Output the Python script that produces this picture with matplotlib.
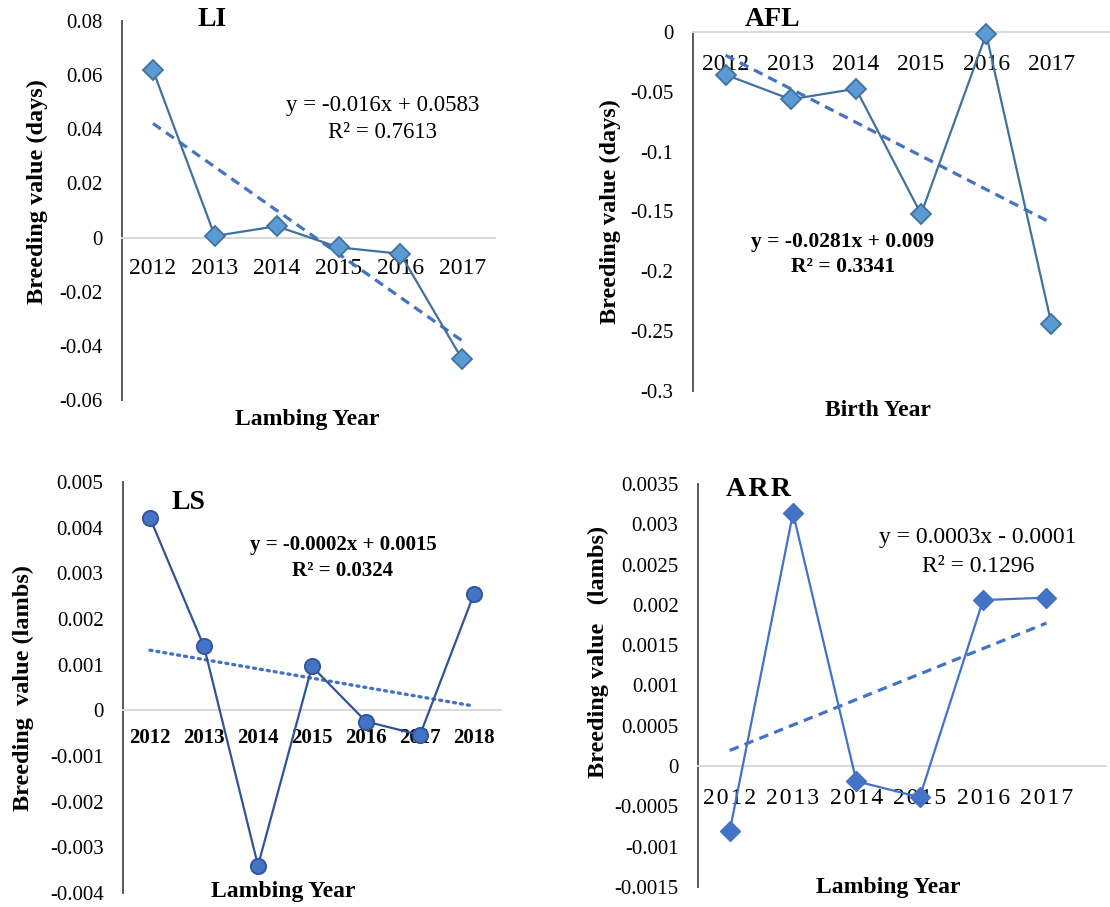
import matplotlib
matplotlib.use("Agg")
import matplotlib.pyplot as plt
from matplotlib.ticker import FixedLocator, FuncFormatter
import numpy as np

plt.rcParams['font.family'] = ['Liberation Serif', 'DejaVu Serif']

# --- data ---
years_6 = ['2012', '2013', '2014', '2015', '2016', '2017']
years_7 = ['2012', '2013', '2014', '2015', '2016', '2017', '2018']

li_values = [0.0619, 0.0006, 0.0042, -0.0036, -0.0060, -0.0450]
afl_values = [-0.0357, -0.0563, -0.0474, -0.1522, -0.0017, -0.2437]
ls_values = [0.00421, 0.00140, -0.00340, 0.00096, -0.000245, -0.00054, 0.00255]
arr_values = [-0.00081, 0.00314, -0.000188, -0.000386, 0.00206, 0.00209]

li_yticks = [-0.06, -0.04, -0.02, 0, 0.02, 0.04, 0.06, 0.08]
afl_yticks = [-0.3, -0.25, -0.2, -0.15, -0.1, -0.05, 0]
ls_yticks = [-0.004, -0.003, -0.002, -0.001, 0, 0.001, 0.002, 0.003, 0.004, 0.005]
arr_yticks = [-0.0015, -0.001, -0.0005, 0, 0.0005, 0.001, 0.0015, 0.002,
              0.0025, 0.003, 0.0035]

li_eq = ['y = -0.016x + 0.0583', 'R² = 0.7613']
afl_eq = ['y = -0.0281x + 0.009', 'R² = 0.3341']
ls_eq = ['y = -0.0002x + 0.0015', 'R² = 0.0324']
arr_eq = ['y = 0.0003x - 0.0001', 'R² = 0.1296']

W, H = 1110, 907
fig = plt.figure(figsize=(W / 100, H / 100), dpi=100)


def px(x, y):
    # pixel position -> figure fraction
    return x / W, 1 - y / H


def add_axes(x0, y_top, x1, y_bot):
    return fig.add_axes([x0 / W, 1 - y_bot / H, (x1 - x0) / W, (y_bot - y_top) / H])


def fmt(v, pos):
    v = round(v, 6)
    if v == 0:
        return '0'
    return f'{v:g}'


def draw_panel(ax, labels, values, yticks, xmax, line_kw, trend_kw,
               xtick_size=17, xtick_weight='normal', xpad=15):
    # spines first: moving the bottom spine resets the ticks
    for s in ['top', 'right']:
        ax.spines[s].set_visible(False)
    ax.spines['left'].set_color('#595959')
    ax.spines['left'].set_linewidth(1.4)
    ax.spines['bottom'].set_position(('data', 0))
    ax.spines['bottom'].set_color('#D9D9D9')
    ax.spines['bottom'].set_linewidth(1.4)
    ax.patch.set_alpha(0)

    x = np.arange(1, len(values) + 1)
    ax.plot(x, values, clip_on=False, zorder=4, **line_kw)
    k, b = np.polyfit(x, values, 1)
    ax.plot(x, k * x + b, zorder=3, **trend_kw)

    ax.set_xlim(0.5, xmax)
    ax.set_ylim(yticks[0], yticks[-1])
    ax.yaxis.set_major_locator(FixedLocator(yticks))
    ax.yaxis.set_major_formatter(FuncFormatter(fmt))
    ax.set_xticks(x)
    ax.set_xticklabels(labels)
    ax.tick_params(axis='y', length=0, pad=14, labelsize=15)
    ax.tick_params(axis='x', length=0, pad=xpad, labelsize=xtick_size)
    for t in ax.get_xticklabels():
        t.set_fontweight(xtick_weight)


diamond_li = dict(color='#41719C', lw=1.6, marker='D', ms=10,
                  mfc='#5B9BD5', mec='#41719C', mew=1.3)
dashed = dict(color='#4472C4', lw=2.3, linestyle=(0, (3, 2)))

# LI
ax1 = add_axes(122, 21, 495, 400)
draw_panel(ax1, years_6, li_values, li_yticks, 6.53, diamond_li, dashed)
fig.text(*px(212, 20), 'LI', fontsize=20, fontweight='bold', ha='center', va='center')
fig.text(*px(383, 105), li_eq[0], fontsize=16.5, ha='center', va='center')
fig.text(*px(383, 133), li_eq[1], fontsize=16.5, ha='center', va='center')
fig.text(*px(37, 192), 'Breeding value (days)', fontsize=17.5, fontweight='bold',
         rotation=90, ha='center', va='center')
fig.text(*px(307, 420), 'Lambing Year', fontsize=17, fontweight='bold',
         ha='center', va='center')

# AFL
ax2 = add_axes(693, 32, 1110, 391)
draw_panel(ax2, years_6, afl_values, afl_yticks, 6.9, diamond_li, dashed, xpad=16)
fig.text(*px(773, 19), 'AFL', fontsize=20, fontweight='bold', ha='center', va='center')
fig.text(*px(843, 242), afl_eq[0], fontsize=15.5, fontweight='bold', ha='center', va='center')
fig.text(*px(843, 267), afl_eq[1], fontsize=15.5, fontweight='bold', ha='center', va='center')
fig.text(*px(610, 212), 'Breeding value (days)', fontsize=17.5, fontweight='bold',
         rotation=90, ha='center', va='center')
fig.text(*px(878, 410), 'Birth Year', fontsize=17, fontweight='bold',
         ha='center', va='center')

# LS
circle_ls = dict(color='#2F5597', lw=1.6, marker='o', ms=11,
                 mfc='#4472C4', mec='#2F5597', mew=1.3)
dotted = dict(color='#4472C4', lw=2.4, linestyle=(0, (0.6, 1.5)),
              dash_capstyle='round')
ax3 = add_axes(123, 482, 501, 893)
draw_panel(ax3, years_7, ls_values, ls_yticks, 7.5, circle_ls, dotted,
           xtick_size=15, xtick_weight='bold', xpad=13)
fig.text(*px(188, 503), 'LS', fontsize=20, fontweight='bold', ha='center', va='center')
fig.text(*px(343, 545), ls_eq[0], fontsize=15, fontweight='bold', ha='center', va='center')
fig.text(*px(343, 571), ls_eq[1], fontsize=15, fontweight='bold', ha='center', va='center')
fig.text(*px(23, 688), 'Breeding  value (lambs)', fontsize=17.5, fontweight='bold',
         rotation=90, ha='center', va='center')
fig.text(*px(283, 891), 'Lambing Year', fontsize=17, fontweight='bold',
         ha='center', va='center')

# ARR
diamond_arr = dict(color='#4472C4', lw=1.6, marker='D', ms=10,
                   mfc='#4472C4', mec='#4472C4', mew=1.0)
ax4 = add_axes(698, 484, 1106, 887)
spaced = ['\u200a'.join(y) for y in years_6]
draw_panel(ax4, spaced, arr_values, arr_yticks, 6.94, diamond_arr, dashed,
           xtick_size=17, xpad=16)
fig.text(*px(758, 489), '\u200a'.join('ARR'), fontsize=20, fontweight='bold',
         ha='center', va='center')
fig.text(*px(978, 538), arr_eq[0], fontsize=17, ha='center', va='center')
fig.text(*px(978, 567), arr_eq[1], fontsize=17, ha='center', va='center')
fig.text(*px(598, 652), 'Breeding value   (lambs)', fontsize=17.5, fontweight='bold',
         rotation=90, ha='center', va='center')
fig.text(*px(888, 887), 'Lambing Year', fontsize=17, fontweight='bold',
         ha='center', va='center')

fig.savefig('out.png', dpi=100)
